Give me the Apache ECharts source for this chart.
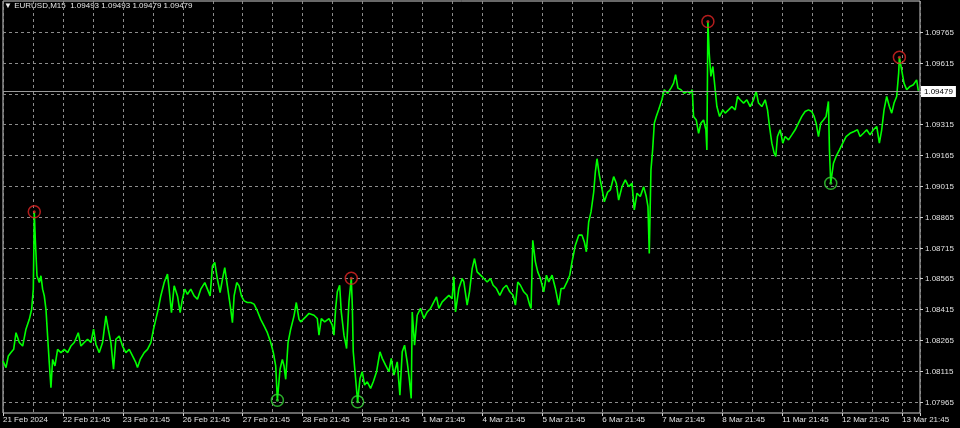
<!DOCTYPE html>
<html><head><meta charset="utf-8">
<script src="https://cdn.jsdelivr.net/npm/echarts@6/dist/echarts.min.js"></script>
<style>html,body{margin:0;padding:0;background:#000}#c{width:960px;height:428px}</style>
</head><body><div id="c"></div>
<script>
const symbolName = "EURUSD,M15";
const ohlcText = ["1.09493", "1.09493", "1.09479", "1.09479"];
const xTickLabels = ["21 Feb 2024","22 Feb 21:45","23 Feb 21:45","26 Feb 21:45","27 Feb 21:45","28 Feb 21:45","29 Feb 21:45","1 Mar 21:45","4 Mar 21:45","5 Mar 21:45","6 Mar 21:45","7 Mar 21:45","8 Mar 21:45","11 Mar 21:45","12 Mar 21:45","13 Mar 21:45"];
const yTickValues = [1.07965,1.08115,1.08265,1.08415,1.08565,1.08715,1.08865,1.09015,1.09165,1.09315,1.09465,1.09615,1.09765];
const lastPrice = 1.09479;
const yMin = 1.07910, yMax = 1.09916, xMax = 15.3;

// time in trading days from 21 Feb 21:45
const days = [
0.000,0.050,0.089,0.133,0.178,0.217,0.272,0.328,0.383,0.439,0.478,0.506,0.522,0.539,0.567,0.606,0.633,0.661,0.689,0.717,
0.744,0.772,0.800,0.828,0.867,0.911,0.967,1.022,1.078,1.133,1.189,1.256,1.300,1.356,1.411,1.467,1.511,1.550,1.606,1.661,
1.717,1.756,1.800,1.844,1.883,1.939,1.994,2.050,2.106,2.161,2.217,2.244,2.289,2.356,2.411,2.467,2.511,2.550,2.589,2.633,
2.689,2.744,2.772,2.811,2.856,2.911,2.956,2.994,3.033,3.078,3.133,3.189,3.244,3.300,3.367,3.411,3.456,3.494,3.533,3.578,
3.622,3.661,3.700,3.744,3.800,3.828,3.856,3.900,3.939,3.978,4.022,4.078,4.133,4.189,4.244,4.300,4.356,4.411,4.467,4.511,
4.550,4.578,4.622,4.661,4.689,4.717,4.756,4.800,4.856,4.894,4.939,
4.967,5.050,5.106,5.189,5.244,5.272,5.311,5.367,5.439,5.494,5.522,5.550,5.578,5.617,5.644,5.689,5.733,5.772,5.811,5.828,
5.844,5.883,5.917,5.956,5.994,6.033,6.078,6.133,6.178,6.233,6.289,6.328,6.383,6.439,6.478,6.522,6.578,6.622,6.661,6.700,
6.744,6.778,6.811,6.828,6.867,6.911,6.967,7.022,7.078,7.133,7.189,7.233,7.272,7.328,7.383,7.439,7.494,7.522,7.550,7.606,
7.661,7.689,7.744,7.783,7.828,7.867,7.911,7.967,8.022,8.078,8.133,8.178,8.233,8.289,8.344,8.400,8.456,8.511,8.550,8.589,
8.633,8.689,8.744,8.789,8.811,8.839,8.883,8.922,8.967,9.022,9.067,9.106,9.161,9.217,9.272,9.311,9.356,9.411,9.456,9.494,
9.550,9.606,9.661,9.700,9.733,9.772,9.811,9.856,9.883,9.911,9.950,9.994,10.033,10.089,
10.133,10.189,10.233,10.272,10.328,10.383,10.439,10.494,10.533,10.578,10.633,10.689,10.733,10.761,10.783,10.811,10.839,10.867,10.900,10.939,
10.994,11.033,11.089,11.144,11.189,11.222,11.261,11.311,11.367,11.422,11.467,11.500,11.522,11.567,11.606,11.644,11.689,11.728,11.744,11.761,
11.783,11.811,11.844,11.883,11.911,11.956,12.011,12.050,12.106,12.161,12.217,12.256,12.300,12.356,12.411,12.467,12.522,12.567,12.606,12.661,
12.717,12.756,12.789,12.828,12.867,12.894,12.922,12.967,13.011,13.050,13.106,13.161,13.217,13.272,13.328,13.383,13.439,13.494,13.533,13.567,
13.606,13.644,13.689,13.733,13.772,13.789,13.811,13.856,13.900,13.956,14.011,14.067,14.133,14.200,14.256,14.300,14.356,14.411,14.467,14.522,
14.578,14.622,14.661,14.700,14.744,14.789,14.828,14.867,14.911,14.944,14.956,14.994,15.033,15.078,15.133,15.189,15.244,15.272
];
const prices = [
1.08163,1.08131,1.08188,1.08204,1.08220,1.08301,1.08253,1.08236,1.08318,1.08366,1.08415,1.08513,1.08890,1.08756,1.08578,1.08545,1.08578,1.08513,1.08480,1.08415,
1.08285,1.08155,1.08033,1.08171,1.08139,1.08220,1.08204,1.08220,1.08204,1.08236,1.08253,1.08301,1.08236,1.08253,1.08269,1.08253,1.08318,1.08245,1.08204,1.08253,
1.08383,1.08318,1.08253,1.08123,1.08269,1.08285,1.08236,1.08204,1.08220,1.08188,1.08155,1.08131,1.08171,1.08204,1.08220,1.08253,1.08318,1.08366,1.08415,1.08480,
1.08545,1.08586,1.08513,1.08399,1.08529,1.08480,1.08399,1.08464,1.08513,1.08488,1.08513,1.08480,1.08464,1.08513,1.08545,1.08513,1.08480,1.08626,1.08643,1.08561,
1.08496,1.08561,1.08618,1.08529,1.08415,1.08350,1.08480,1.08545,1.08529,1.08480,1.08456,1.08448,1.08448,1.08440,1.08407,1.08366,1.08334,1.08301,1.08253,1.08204,
1.08139,1.07972,1.08123,1.08171,1.08139,1.08074,1.08253,1.08318,1.08383,1.08448,1.08366,
1.08354,1.08378,1.08395,1.08386,1.08370,1.08289,1.08370,1.08354,1.08370,1.08338,1.08289,1.08419,1.08500,1.08532,1.08402,1.08289,1.08224,1.08451,1.08566,1.08435,
1.08208,1.08078,1.07965,1.08078,1.08111,1.08046,1.08062,1.08030,1.08062,1.08111,1.08208,1.08176,1.08143,1.08111,1.08176,1.08095,1.08159,1.07997,1.08208,1.08240,
1.08159,1.08078,1.07981,1.08402,1.08240,1.08386,1.08419,1.08370,1.08402,1.08419,1.08451,1.08475,1.08419,1.08451,1.08467,1.08483,1.08467,1.08573,1.08402,1.08516,
1.08565,1.08548,1.08435,1.08500,1.08613,1.08662,1.08597,1.08581,1.08565,1.08548,1.08565,1.08532,1.08516,1.08483,1.08516,1.08532,1.08500,1.08483,1.08435,1.08548,
1.08532,1.08500,1.08483,1.08435,1.08419,1.08751,1.08646,1.08597,1.08565,1.08500,1.08581,1.08548,1.08581,1.08516,1.08435,1.08516,1.08516,1.08548,1.08581,1.08646,
1.08727,1.08776,1.08776,1.08743,1.08695,1.08840,1.08889,1.08986,1.09083,1.09148,1.09067,1.09002,1.08938,1.08986,
1.08996,1.09061,1.09029,1.08947,1.09012,1.09045,1.09012,1.09029,1.08899,1.08980,1.08964,1.09012,1.08964,1.08915,1.08687,1.09094,1.09191,1.09321,1.09354,1.09386,
1.09435,1.09484,1.09467,1.09492,1.09516,1.09557,1.09492,1.09484,1.09467,1.09476,1.09467,1.09484,1.09354,1.09337,1.09272,1.09321,1.09337,1.09289,1.09191,1.09816,
1.09662,1.09549,1.09597,1.09484,1.09402,1.09354,1.09386,1.09370,1.09386,1.09402,1.09386,1.09451,1.09435,1.09419,1.09435,1.09402,1.09435,1.09476,1.09419,1.09402,
1.09435,1.09386,1.09305,1.09224,1.09175,1.09159,1.09256,1.09289,1.09224,1.09256,1.09240,1.09264,1.09289,1.09321,1.09354,1.09378,1.09386,1.09378,1.09354,1.09321,
1.09256,1.09321,1.09337,1.09354,1.09427,1.09191,1.09029,1.09126,1.09159,1.09191,1.09224,1.09256,1.09272,1.09281,1.09289,1.09256,1.09272,1.09289,1.09264,1.09289,
1.09305,1.09224,1.09289,1.09386,1.09451,1.09402,1.09370,1.09419,1.09451,1.09565,1.09642,1.09581,1.09516,1.09484,1.09500,1.09508,1.09532,1.09479
];
const highDays = [0.522, 5.811, 11.761, 14.956];
const highPrices = [1.08890, 1.08566, 1.09816, 1.09642];
const lowDays = [4.578, 5.917, 13.811];
const lowPrices = [1.07972, 1.07965, 1.09029];

const FONT = '"Liberation Sans", Arial, sans-serif';
const FS = 8;
const zip = (a, b) => a.map((v, i) => [v, b[i]]);
const chart = echarts.init(document.getElementById('c'), null, {renderer: 'canvas'});

function hLineItem(api, opts) {
  const v = api.value(1);
  const p0 = api.coord([0, v]);
  const p1 = api.coord([xMax, v]);
  const y = Math.round(p0[1]) + 0.5;
  const children = [
    {type: 'line', shape: {x1: p0[0], y1: y, x2: p1[0], y2: y},
     style: {stroke: opts.stroke, lineWidth: 1, lineDash: opts.dash || null}},
    {type: 'line', shape: {x1: p1[0], y1: y, x2: p1[0] + 3, y2: y},
     style: {stroke: '#cfcfcf', lineWidth: 1}}
  ];
  if (opts.box) {
    children.push({type: 'text', x: p1[0] + 1, y: y,
      style: {text: v.toFixed(5), fill: '#000', backgroundColor: '#fff', padding: [2, 3, 1, 3],
              font: FS + 'px ' + FONT, verticalAlign: 'middle', align: 'left'}});
  } else {
    children.push({type: 'text', x: p1[0] + 5, y: y,
      style: {text: v.toFixed(5), fill: '#e0e0e0', font: FS + 'px ' + FONT, verticalAlign: 'middle', align: 'left'}});
  }
  return {type: 'group', children};
}

chart.setOption({
  backgroundColor: '#000000',
  animation: false,
  tooltip: {show: false},
  graphic: [{
    type: 'text', left: 4, top: 2, silent: true,
    style: {text: '\u25BC ' + symbolName + '  ' + ohlcText.join(' '), fill: '#e8e8e8', font: FS + 'px ' + FONT}
  }],
  grid: {left: 2, right: 40, top: 1, bottom: 15, show: true, borderColor: '#cfcfcf', borderWidth: 1, backgroundColor: 'transparent'},
  xAxis: [
    {type: 'value', min: 0, max: xMax, interval: 0.5, position: 'bottom',
     axisLine: {show: false}, axisTick: {show: false}, axisLabel: {show: false},
     splitLine: {show: true, lineStyle: {color: '#8c8c8c', type: [3, 3], width: 1}}},
    {type: 'value', min: 0, max: xMax, interval: 1, position: 'bottom', gridIndex: 0,
     axisLine: {show: false},
     axisTick: {show: true, length: 3, lineStyle: {color: '#cfcfcf'}},
     axisLabel: {show: true, align: 'left', margin: 3, color: '#e0e0e0', fontSize: FS, fontFamily: FONT,
       formatter: v => { const i = Math.round(v); return (Math.abs(v - i) < 1e-6 && xTickLabels[i] !== undefined) ? xTickLabels[i] : ''; }},
     splitLine: {show: false}}
  ],
  yAxis: {type: 'value', min: yMin, max: yMax, position: 'right',
    axisLine: {show: false}, axisTick: {show: false}, axisLabel: {show: false}, splitLine: {show: false}},
  series: [
    {type: 'custom', z: 1, silent: true, xAxisIndex: 0, clip: false,
     data: yTickValues.map(v => [0, v]), encode: {x: 0, y: 1},
     renderItem: (params, api) => hLineItem(api, {stroke: '#8c8c8c', dash: [3, 3]})},
    {type: 'line', data: zip(days, prices), z: 3, silent: true, xAxisIndex: 0,
     showSymbol: false, symbol: 'none',
     lineStyle: {color: '#00ff00', width: 1.6}},
    {type: 'custom', z: 4, silent: true, xAxisIndex: 0, clip: false,
     data: [[0, lastPrice]], encode: {x: 0, y: 1},
     renderItem: (params, api) => hLineItem(api, {stroke: '#9a9a9a', box: true})},
    {type: 'scatter', data: zip(highDays, highPrices), z: 5, silent: true, xAxisIndex: 0,
     symbol: 'circle', symbolSize: 12,
     itemStyle: {color: 'rgba(0,0,0,0)', borderColor: '#e02424', borderWidth: 1.5}},
    {type: 'scatter', data: zip(highDays, highPrices), z: 5, silent: true, xAxisIndex: 0,
     symbol: 'circle', symbolSize: 3, itemStyle: {color: '#e02424'}},
    {type: 'scatter', data: zip(lowDays, lowPrices), z: 5, silent: true, xAxisIndex: 0,
     symbol: 'circle', symbolSize: 12,
     itemStyle: {color: 'rgba(0,0,0,0)', borderColor: '#33d433', borderWidth: 1.5}},
    {type: 'scatter', data: zip(lowDays, lowPrices), z: 5, silent: true, xAxisIndex: 0,
     symbol: 'circle', symbolSize: 3, itemStyle: {color: '#33d433'}}
  ]
});
</script>
</body></html>
